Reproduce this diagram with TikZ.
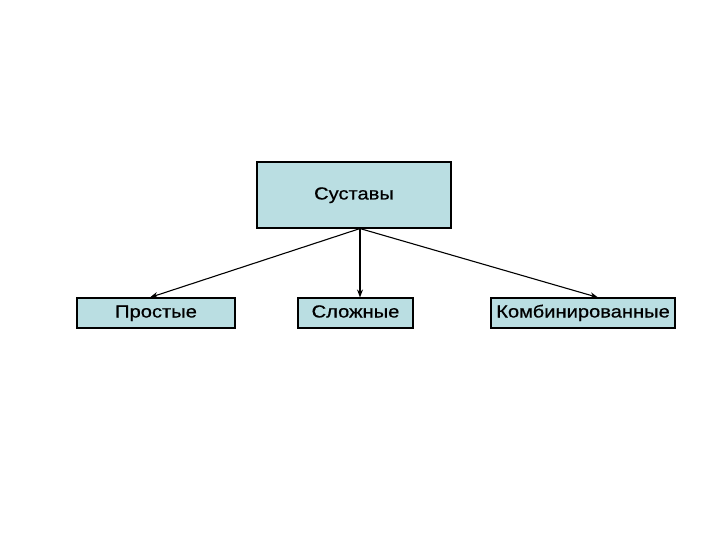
\documentclass[tikz,border=0pt]{standalone}
\usepackage{fontspec}
\setmainfont[FakeStretch=1.15, FakeBold=0.6]{Liberation Sans}
\usepackage{xcolor}
\usetikzlibrary{arrows.meta, positioning}

\definecolor{jointfill}{RGB}{186,222,226}

\begin{document}
\begin{tikzpicture}[x=1pt, y=-1pt, >={Stealth[length=8pt,width=6pt]},
  kind/.style={rectangle, draw=black, line width=1.1pt, fill=jointfill, inner sep=0pt, align=center, text height=12.5pt, text depth=3.5pt, font=\fontsize{17.5}{20}\selectfont},
  link/.style={->, line width=1.1pt}]

    \useasboundingbox (0,0) rectangle (720,540);

    \node[kind, minimum width=194pt, minimum height=66pt] (root) at (354,195) {Суставы};
    \node[kind, minimum width=158pt, minimum height=30pt] (simple) at (156,313) {Простые};
    \node[kind, minimum width=115pt, minimum height=30pt] (complex) at (355.5,313) {Сложные};
    \node[kind, minimum width=184pt, minimum height=30pt] (combined) at (583,313) {Комбинированные};

    \coordinate (fork) at ([xshift=6pt]root.south);

    \draw[link] (fork) -- ([xshift=-6pt]simple.north);
    \draw[link] (fork) -- (fork |- complex.north);
    \draw[link] (fork) -- ([xshift=15pt]combined.north);

\end{tikzpicture}
\end{document}
